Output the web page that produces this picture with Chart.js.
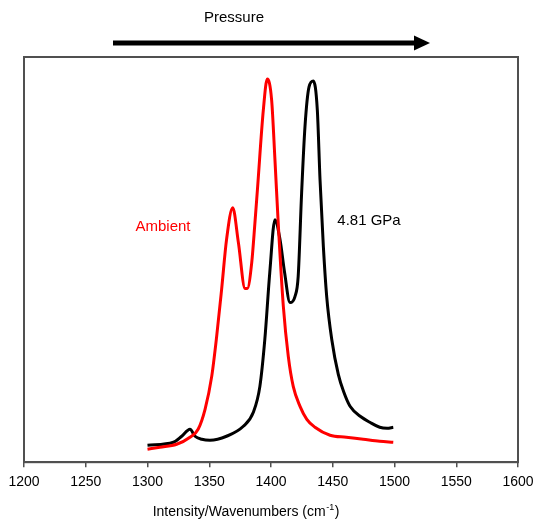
<!DOCTYPE html>
<html>
<head>
<meta charset="utf-8">
<script src="https://cdn.jsdelivr.net/npm/chart.js@4"></script>
<style>
html,body{margin:0;padding:0;background:#fff;}
#wrap{width:539px;height:522px;position:relative;}
</style>
</head>
<body>
<div id="wrap"><canvas id="c" width="539" height="522"></canvas></div>
<script>
// Wavenumbers (cm-1) and intensities (arbitrary units)
const ambientX = [1300,1310,1323.6,1334.4,1341,1346.6,1352,1356,1360,1364,1369,1373.6,1379,1380.8,1384.4,1387,1389,1393.8,1397,1400.5,1403.2,1406,1410,1414,1418,1423.5,1429,1435.6,1447.8,1461,1474.7,1488,1499];
const ambientY = [13,15,18,25,33,53,86,126,173,223,255,220,174,174,200,240,273,353,384,363,303,236,156,106,76,56,43,35,27,25,23,21,20];
const gpaX = [1300,1321,1327.7,1334.4,1338.5,1344,1350.6,1364,1377.6,1385.7,1391,1395,1399,1403.2,1407.3,1411,1415.4,1419.4,1422,1424.8,1427.5,1430.8,1434.3,1437.5,1439.7,1442.4,1445.1,1449.2,1454.5,1459,1464,1473.4,1480,1488,1494,1499];
const gpaY = [17,20,26,33,26,23,22,26,36,50,76,123,190,243,223,190,160,166,186,270,336,376,382,353,283,216,166,123,88,70,56,45,40,35,34,35];
const xTicks = [1200,1250,1300,1350,1400,1450,1500,1550,1600];
const labels = {ambient:'Ambient', gpa:'4.81 GPa', pressure:'Pressure', axis:'Intensity/Wavenumbers (cm', sup:'-1', close:')'};

const toPts = (xs, ys) => xs.map((x, i) => ({x: x, y: ys[i]}));

const decor = {
  id: 'decor',
  afterDraw(chart) {
    const ctx = chart.ctx, a = chart.chartArea;
    ctx.save();
    // frame
    ctx.strokeStyle = '#505050';
    ctx.lineWidth = 2;
    ctx.strokeRect(a.left, a.top, a.right - a.left, a.bottom - a.top);
    // annotations
    ctx.font = '15px "Liberation Sans", Arial, sans-serif';
    ctx.textBaseline = 'middle';
    ctx.textAlign = 'center';
    ctx.fillStyle = '#ff0000';
    ctx.fillText(labels.ambient, 163, 227);
    ctx.fillStyle = '#000';
    ctx.fillText(labels.gpa, 369, 221);
    ctx.fillText(labels.pressure, 234, 18);
    // arrow
    ctx.strokeStyle = '#000';
    ctx.lineWidth = 5;
    ctx.beginPath();
    ctx.moveTo(113, 43);
    ctx.lineTo(417, 43);
    ctx.stroke();
    ctx.beginPath();
    ctx.moveTo(414, 35.5);
    ctx.lineTo(430, 43);
    ctx.lineTo(414, 50.5);
    ctx.closePath();
    ctx.fill();
    // axis title with superscript
    const f1 = '14px "Liberation Sans", Arial, sans-serif';
    const f2 = '9px "Liberation Sans", Arial, sans-serif';
    ctx.textAlign = 'left';
    ctx.textBaseline = 'alphabetic';
    ctx.font = f1; const w1 = ctx.measureText(labels.axis).width;
    const w3 = ctx.measureText(labels.close).width;
    ctx.font = f2; const w2 = ctx.measureText(labels.sup).width;
    const total = w1 + w2 + w3 + 1;
    let x0 = 246 - total / 2;
    const yb = 516;
    ctx.font = f1; ctx.fillText(labels.axis, x0, yb);
    ctx.font = f2; ctx.fillText(labels.sup, x0 + w1 + 0.5, yb - 6);
    ctx.font = f1; ctx.fillText(labels.close, x0 + w1 + w2 + 1, yb);
    ctx.restore();
  }
};

new Chart(document.getElementById('c'), {
  type: 'line',
  data: {
    datasets: [
      {label: labels.ambient, data: toPts(ambientX, ambientY), borderColor: '#ff0000', borderWidth: 3, pointRadius: 0, cubicInterpolationMode: 'monotone', fill: false},
      {label: labels.gpa, data: toPts(gpaX, gpaY), borderColor: '#000000', borderWidth: 3, pointRadius: 0, cubicInterpolationMode: 'monotone', fill: false}
    ]
  },
  options: {
    responsive: false,
    animation: false,
    devicePixelRatio: 1,
    layout: {padding: {left: 24, right: 21, top: 57, bottom: 24}},
    plugins: {legend: {display: false}, tooltip: {enabled: false}},
    scales: {
      x: {
        type: 'linear', min: 1200, max: 1600,
        afterBuildTicks: (s) => { s.ticks = xTicks.map(v => ({value: v})); },
        afterFit: (s) => { s.paddingLeft = 0; s.paddingRight = 0; },
        grid: {drawOnChartArea: false, drawTicks: true, tickLength: 5, color: '#505050', lineWidth: 1.5},
        border: {display: true, color: '#505050', width: 2},
        ticks: {color: '#000', padding: 7, font: {family: '"Liberation Sans", Arial, sans-serif', size: 14}, maxRotation: 0, autoSkip: false, callback: (v) => String(v)},
        title: {display: false}
      },
      y: {type: 'linear', min: 0, max: 406, display: false}
    }
  },
  plugins: [decor]
});
</script>
</body>
</html>
